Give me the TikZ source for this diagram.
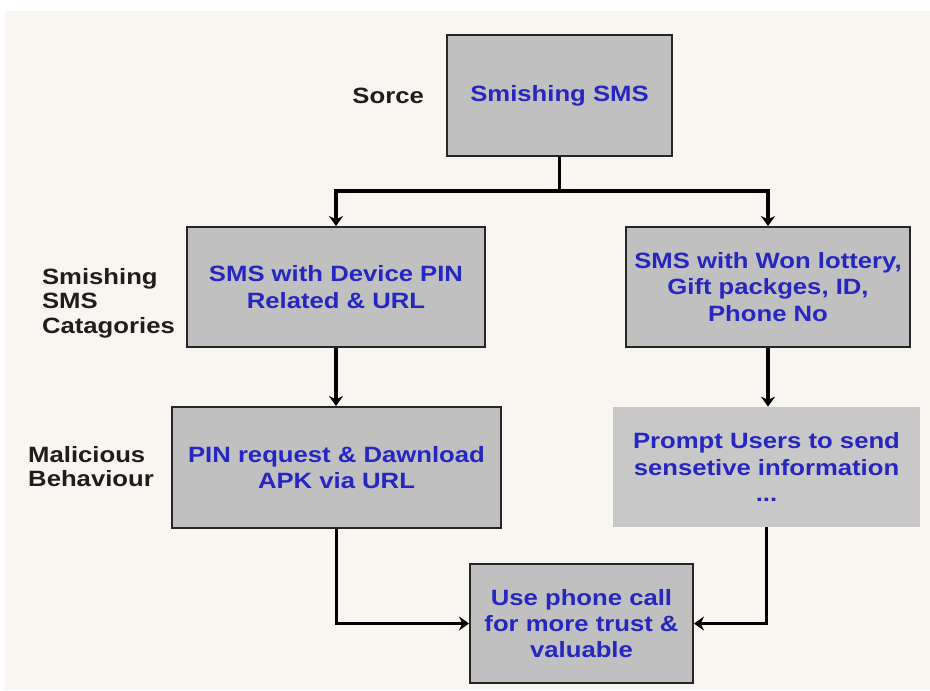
\documentclass[tikz,border=0pt]{standalone}
\usepackage{xcolor}
\usepackage{fontspec}
\usepackage{tikz}
\usetikzlibrary{arrows.meta, positioning, calc}

\newfontfamily\diagfont[FakeStretch=1.16]{Liberation Sans}
\definecolor{bgcream}{RGB}{249,246,241}
\definecolor{boxgray}{RGB}{192,192,192}
\definecolor{softgray}{RGB}{200,200,200}
\definecolor{txtblue}{RGB}{38,38,192}
\definecolor{txtdark}{RGB}{30,30,30}

\begin{document}
\begin{tikzpicture}[
    every node/.style={font=\diagfont\bfseries\fontsize{12.6}{15}\selectfont},
    box/.style={rectangle, draw=black!85, line width=1.1pt, fill=boxgray, align=center, text=txtblue, inner sep=0pt},
    plainbox/.style={rectangle, fill=softgray, align=center, text=txtblue, inner sep=0pt},
    tag/.style={align=left, text=txtdark, font=\diagfont\bfseries\fontsize{12.6}{14}\selectfont},
    arrow/.style={-{Stealth[length=2mm, width=2.8mm]}, line width=1.9pt},
]

% page and background
\useasboundingbox (0,0) rectangle (18.6,-13.8);
\fill[bgcream] (0.1,-0.22) rectangle (18.6,-13.8);

\node[box, minimum width=4.5cm, minimum height=2.42cm] (src) at (11.19,-1.91) {Smishing SMS};
\node[box, minimum width=5.96cm, minimum height=2.4cm] (catpin) at (6.72,-5.74) {SMS with Device PIN\\Related \& URL};
\node[box, minimum width=5.68cm, minimum height=2.4cm] (catgift) at (15.36,-5.74) {SMS with Won lottery,\\Gift packges, ID,\\Phone No};
\node[box, minimum width=6.58cm, minimum height=2.42cm] (malapk) at (6.73,-9.35) {PIN request \& Dawnload\\APK via URL};
\node[plainbox, minimum width=6.14cm, minimum height=2.4cm] (malinfo) at (15.33,-9.34) {Prompt Users to send\\sensetive information\\...};
\node[box, minimum width=4.46cm, minimum height=2.38cm] (call) at (11.63,-12.47) {Use phone call\\for more trust \&\\valuable};

% row labels
\node[tag, left=0.32cm of src] (lblsrc) {Sorce};
\node[tag, left=0.1cm of catpin, yshift=-0.32cm] (lblcat) {Smishing\\SMS\\Catagories};
\node[tag, left=0.22cm of malapk, yshift=0.02cm] (lblmal) {Malicious\\Behaviour};

\draw[line width=1.9pt] (src.south) -- ++(0,-0.68) coordinate (split);
\draw[arrow] (split) -| (catpin.north);
\draw[arrow] (split) -| (catgift.north);
\draw[arrow] (catpin.south) -- (catpin.south |- malapk.north);
\draw[arrow] (catgift.south) -- (catgift.south |- malinfo.north);
\draw[arrow] (malapk.south) |- (call.west);
\draw[arrow] (malinfo.south) |- (call.east);
\end{tikzpicture}
\end{document}
